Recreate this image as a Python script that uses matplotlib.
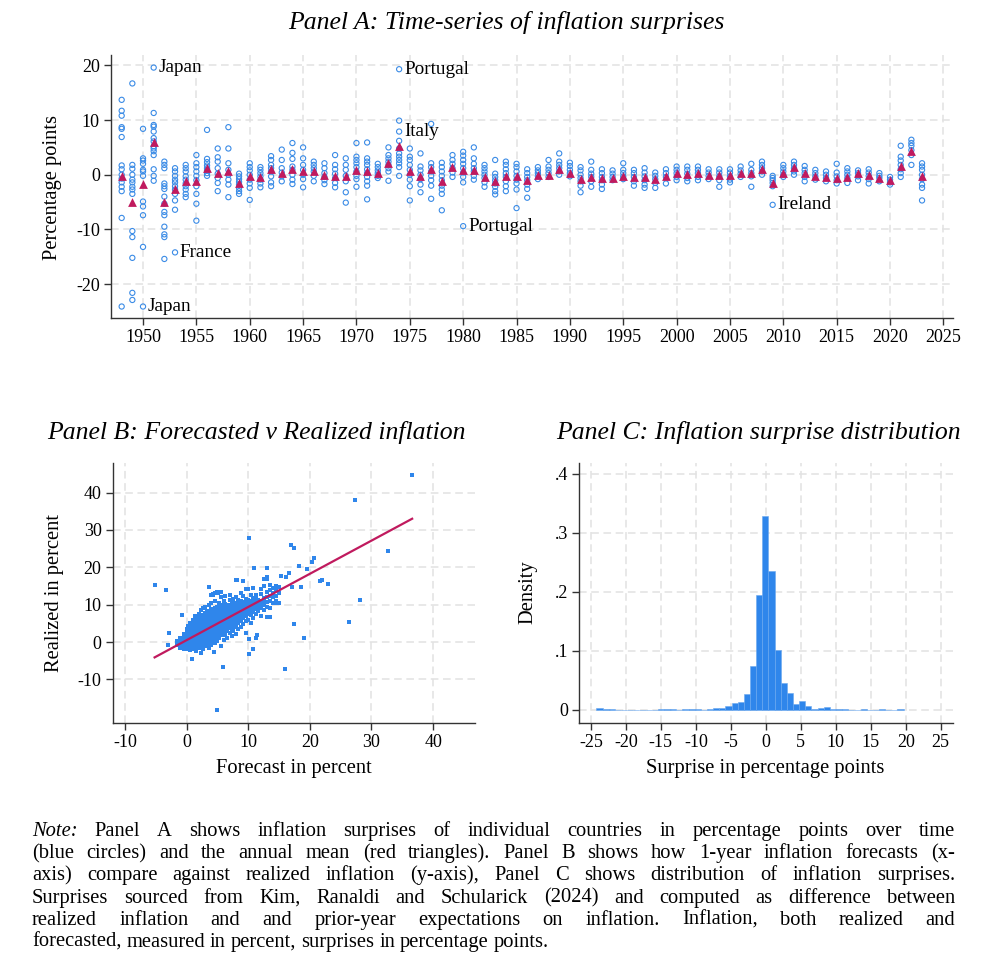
import numpy as np
import matplotlib.pyplot as plt

plt.rcParams['font.family'] = ['Liberation Serif', 'DejaVu Serif']
plt.rcParams['axes.unicode_minus'] = False

# ===============================
# Datos
# ===============================

# Panel A: sorpresas por país y año (puntos porcentuales)
years = list(range(1948, 2024))
surprises = [
    [13.7, 11.7, 10.8, 8.7, 8.4, 6.9, 1.7, 1.0, 0.0, -0.7, -1.4, -2.2, -3.0, -7.9, -24.1],   # 1948
    [16.7, 1.8, 1.1, 0.0, -0.9, -1.4, -2.2, -2.7, -3.5, -10.3, -11.4, -15.2, -21.6, -22.9],  # 1949
    [8.4, 3.0, 2.6, 2.0, 0.9, 0.6, -0.2, -4.9, -5.8, -7.4, -13.2, -24.1],                    # 1950
    [19.6, 11.3, 9.1, 8.8, 7.9, 6.7, 6.1, 5.2, 4.8, 4.3, 3.6, 1.0, -0.2, -1.1],              # 1951
    [2.4, 1.8, 1.2, -1.6, -2.1, -2.6, -4.0, -5.3, -6.8, -7.4, -9.5, -10.9, -11.4, -15.4],    # 1952
    [1.2, 0.6, -0.2, -0.9, -1.4, -2.1, -2.7, -3.5, -4.7, -6.4, -14.2],                       # 1953
    [1.8, 1.2, 0.6, -0.3, -0.9, -1.6, -2.1, -2.7, -3.5, -4.1],                               # 1954
    [3.6, 2.1, 1.4, 0.6, -0.2, -1.0, -2.1, -3.5, -5.3, -8.4],                                # 1955
    [8.2, 2.9, 2.3, 1.7, 1.2, 0.8, 0.3, -0.2],                                               # 1956
    [4.8, 3.2, 2.4, 1.2, 0.2, -0.6, -1.5, -3.0],                                             # 1957
    [8.7, 4.8, 2.1, 0.9, 0.0, -0.9, -1.8, -4.1],                                             # 1958
    [0.2, -0.3, -0.8, -1.3, -1.8, -2.4, -3.0, -3.5],                                         # 1959
    [2.1, 1.4, 0.8, 0.0, -0.9, -1.6, -2.4, -4.6],                                            # 1960
    [1.4, 0.9, 0.3, -0.3, -0.9, -1.6, -2.3],                                                 # 1961
    [3.4, 2.7, 1.8, 1.2, 0.6, -0.3, -1.4, -2.1],                                             # 1962
    [4.6, 2.7, 1.2, 0.4, -0.3, -1.2],                                                        # 1963
    [5.8, 4.0, 2.9, 1.5, 0.9, 0.0, -0.9, -1.7],                                              # 1964
    [5.0, 3.0, 1.8, 0.9, 0.0, -0.8, -2.3],                                                   # 1965
    [2.4, 1.8, 1.2, 0.6, -0.2, -1.2],                                                        # 1966
    [2.1, 1.2, 0.3, -0.4, -1.0, -1.7],                                                       # 1967
    [3.6, 1.8, 1.0, 0.2, -0.6, -1.5, -2.3],                                                  # 1968
    [3.0, 1.8, 0.9, -0.2, -1.2, -3.2, -5.1],                                                 # 1969
    [5.8, 3.3, 2.7, 2.1, 1.4, 0.6, -0.2, -0.8, -2.2],                                        # 1970
    [5.9, 3.0, 2.4, 1.8, 1.0, 0.3, -0.4, -1.2, -2.0, -4.5],                                  # 1971
    [2.0, 1.4, 0.8, 0.3, -0.2, -0.6],                                                        # 1972
    [5.0, 3.6, 3.0, 2.4, 1.8, 1.2, 0.6, -1.1],                                               # 1973
    [19.3, 9.9, 7.9, 6.2, 4.8, 3.9, 3.3, 2.7, 2.1, 1.4, -0.2],                               # 1974
    [4.8, 3.3, 2.7, 1.8, 0.9, 0.0, -0.9, -2.1, -4.7],                                        # 1975
    [3.9, 1.5, 0.8, 0.0, -0.8, -1.8, -3.2],                                                  # 1976
    [9.3, 2.1, 1.4, 0.6, -0.2, -1.0, -2.0, -4.4],                                            # 1977
    [2.2, 1.4, 0.6, -0.2, -1.0, -2.0, -2.7, -3.5, -6.5],                                     # 1978
    [3.6, 2.7, 2.0, 1.2, 0.4, -0.4],                                                         # 1979
    [4.2, 3.5, 2.7, 2.0, 1.2, 0.4, -0.4, -1.4, -9.4],                                        # 1980
    [5.0, 3.0, 2.0, 1.2, 0.6, -0.2, -0.9],                                                   # 1981
    [1.8, 1.2, 0.6, 0.0, -0.6, -1.4, -2.2],                                                  # 1982
    [2.7, 0.2, -0.4, -1.0, -1.6, -2.2, -3.0, -3.6],                                          # 1983
    [2.4, 1.8, 1.0, 0.3, -0.4, -1.2, -2.1, -3.0],                                            # 1984
    [2.0, 1.4, 0.6, -0.2, -0.9, -1.6, -2.7, -6.1],                                           # 1985
    [1.0, 0.3, -0.4, -1.0, -1.8, -2.6, -4.2],                                                # 1986
    [1.4, 0.8, 0.3, -0.2, -0.8],                                                             # 1987
    [2.7, 1.5, 0.9, 0.3, -0.4],                                                              # 1988
    [3.9, 2.4, 1.8, 1.2, 0.6, 0.0],                                                          # 1989
    [2.2, 1.6, 0.9, 0.3, -0.3],                                                              # 1990
    [1.4, 0.8, 0.0, -0.6, -1.2, -2.0, -3.2],                                                 # 1991
    [2.4, 0.9, 0.2, -0.4, -1.2, -2.2],                                                       # 1992
    [1.0, 0.3, -0.4, -1.0, -1.8, -2.6],                                                      # 1993
    [0.8, 0.2, -0.4, -1.0],                                                                  # 1994
    [2.1, 0.9, 0.3, -0.3, -0.8],                                                             # 1995
    [0.9, 0.3, -0.4, -1.2, -2.0],                                                            # 1996
    [1.2, 0.4, -0.3, -1.0, -1.8, -2.4],                                                      # 1997
    [0.4, -0.2, -0.8, -1.5, -2.4],                                                           # 1998
    [1.0, 0.3, -0.4, -1.6],                                                                  # 1999
    [1.5, 0.9, 0.3, -0.4, -1.0],                                                             # 2000
    [1.5, 0.9, 0.2, -0.6, -1.2],                                                             # 2001
    [1.5, 0.9, 0.3, -0.4, -1.0],                                                             # 2002
    [1.0, 0.4, -0.2, -0.8],                                                                  # 2003
    [1.0, 0.4, -0.3, -1.0, -2.2],                                                            # 2004
    [1.0, 0.4, -0.3, -0.9, -1.4],                                                            # 2005
    [1.5, 0.8, 0.2, -0.4],                                                                   # 2006
    [2.0, 0.9, 0.3, -0.3, -2.2],                                                             # 2007
    [2.4, 1.8, 1.2, 0.6, 0.0],                                                               # 2008
    [-0.2, -0.6, -1.0, -1.5, -2.1, -5.5],                                                    # 2009
    [1.8, 1.2, 0.6, 0.0, -0.4],                                                              # 2010
    [2.4, 1.8, 1.2, 0.6, 0.0],                                                               # 2011
    [1.6, 0.9, 0.3, -0.4, -1.2],                                                             # 2012
    [0.9, 0.3, -0.3, -0.9],                                                                  # 2013
    [0.6, 0.0, -0.6, -1.2],                                                                  # 2014
    [2.0, 0.4, -0.3, -1.0, -1.6],                                                            # 2015
    [1.2, 0.6, 0.0, -0.6, -1.5],                                                             # 2016
    [0.8, 0.3, -0.3, -1.0],                                                                  # 2017
    [1.0, 0.4, -0.2, -0.8, -1.6],                                                            # 2018
    [0.3, -0.2, -0.6, -1.2],                                                                 # 2019
    [-0.4, -0.9, -1.4, -1.8],                                                                # 2020
    [5.3, 3.3, 2.6, 1.8, 1.0, 0.3, -0.4],                                                    # 2021
    [6.4, 5.8, 5.3, 4.5, 3.6, 1.8],                                                          # 2022
    [2.1, 1.5, 0.9, 0.0, -0.8, -1.8, -2.4, -4.7],                                            # 2023
]
annual_mean = [
    -0.2, -5.0, -1.7, 5.9, -4.9, -2.6, -1.2, -1.1, 1.2, 0.4,      # 1948-1957
    0.6, -1.5, -0.2, -0.4, 1.0, 0.4, 1.0, 0.6, 0.6, -0.1,         # 1958-1967
    -0.2, -0.3, 0.9, 0.7, 0.4, 2.1, 5.2, 0.6, -0.2, 1.0,          # 1968-1977
    -1.2, 1.5, 0.8, 0.9, -0.4, -1.2, -0.3, -0.2, -0.9, 0.0,       # 1978-1987
    0.0, 1.1, 0.3, -0.8, -0.4, -0.6, -0.6, -0.2, -0.4, -0.4,      # 1988-1997
    -0.8, -0.3, 0.4, 0.2, 0.3, 0.0, 0.0, 0.0, 0.3, 0.3,           # 1998-2007
    1.0, -1.6, 0.4, 1.4, 0.3, -0.3, -0.4, -0.6, -0.4, 0.3,        # 2008-2017
    0.0, -0.6, -1.0, 1.6, 4.4, -0.3,                              # 2018-2023
]
label_years = [1951, 1950, 1953, 1974, 1974, 1980, 2009]
label_values = [19.6, -24.1, -14.2, 19.3, 7.9, -9.4, -5.5]
label_names = ["Japan", "Japan", "France", "Portugal", "Italy", "Portugal", "Ireland"]

# Panel B: núcleo de la nube (pronóstico -> lista de realizados)
cluster_f = [-1.5, -1.0, -0.5, 0.0, 0.3, 0.6, 1.0, 1.3, 1.6, 2.0, 2.3, 2.6, 3.0, 3.3,
             3.6, 4.0, 4.3, 4.6, 5.0, 5.3, 5.6, 6.0, 6.3, 6.6, 7.0, 7.3, 7.6, 8.0,
             8.4, 8.8, 9.2, 9.6, 10.0, 10.4, 10.8, 11.2, 11.6, 12.0, 12.5, 13.0,
             13.5, 14.0, 14.5, 15.0]
cluster_r = [
    [-0.8, 0.2],
    [-1.5, -0.6, 0.0, 0.6, 1.2],
    [-1.8, -1.0, -0.3, 0.3, 0.9, 1.5, 2.2],
    [-2.0, -1.3, -0.7, -0.1, 0.5, 1.0, 1.6, 2.2, 2.9, 3.6],
    [-1.6, -0.9, -0.2, 0.4, 1.1, 1.8, 2.5, 3.2, 4.3],
    [-2.2, -1.2, -0.5, 0.2, 0.8, 1.4, 2.0, 2.7, 3.4, 4.0, 5.1],
    [-1.8, -1.0, -0.3, 0.3, 0.9, 1.5, 2.1, 2.7, 3.3, 4.0, 4.8, 6.0],
    [-1.5, -0.6, 0.1, 0.7, 1.3, 1.9, 2.5, 3.1, 3.8, 4.6, 5.5, 7.0],
    [-2.3, -1.1, -0.2, 0.5, 1.1, 1.7, 2.3, 2.9, 3.5, 4.2, 5.0, 6.2],
    [-1.6, -0.7, 0.1, 0.8, 1.5, 2.1, 2.7, 3.3, 4.0, 4.7, 5.5, 6.5, 7.6],
    [-1.2, -0.3, 0.5, 1.2, 1.9, 2.5, 3.1, 3.8, 4.5, 5.3, 6.1, 7.2, 8.5],
    [-2.0, -0.8, 0.2, 1.0, 1.7, 2.3, 2.9, 3.5, 4.2, 4.9, 5.7, 6.6, 9.0],
    [-1.0, 0.0, 0.8, 1.6, 2.3, 3.0, 3.6, 4.3, 5.0, 5.8, 6.7, 7.8, 9.5],
    [-0.5, 0.5, 1.3, 2.0, 2.7, 3.4, 4.1, 4.8, 5.6, 6.4, 7.4, 8.4],
    [-1.5, 0.2, 1.0, 1.8, 2.6, 3.3, 4.0, 4.7, 5.4, 6.2, 7.0, 8.0, 9.8, 14.6],
    [-0.8, 0.6, 1.5, 2.3, 3.1, 3.9, 4.6, 5.3, 6.1, 6.9, 7.8, 8.8, 10.5, 12.6],
    [0.0, 1.2, 2.0, 2.8, 3.6, 4.4, 5.1, 5.9, 6.7, 7.6, 8.6, 12.8],
    [-0.3, 0.9, 1.8, 2.7, 3.5, 4.3, 5.0, 5.8, 6.6, 7.5, 9.2, 11.0, 13.0],
    [0.3, 1.5, 2.5, 3.4, 4.2, 5.0, 5.8, 6.6, 7.4, 8.3, 9.5, 13.4],
    [1.0, 2.2, 3.2, 4.1, 4.9, 5.7, 6.5, 7.3, 8.2, 9.0, 10.5],
    [-1.2, 2.0, 3.0, 3.9, 4.8, 5.6, 6.4, 7.2, 8.0, 8.8, 10.0, 12.0],
    [0.6, 2.6, 3.6, 4.5, 5.4, 6.2, 7.0, 7.8, 8.6, 9.5, 11.0],
    [2.0, 3.3, 4.3, 5.2, 6.0, 6.8, 7.6, 8.4, 9.3, 10.2, 12.4],
    [1.2, 3.0, 4.0, 4.9, 5.8, 6.7, 7.5, 8.3, 9.1, 10.0],
    [2.5, 3.8, 4.8, 5.7, 6.5, 7.4, 8.2, 9.0, 9.8, 11.2, 12.5],
    [1.5, 3.3, 4.6, 5.6, 6.5, 7.3, 8.1, 8.9, 9.7, 10.6],
    [3.0, 4.3, 5.3, 6.3, 7.2, 8.0, 8.8, 9.6, 10.5, 11.5],
    [2.2, 4.0, 5.2, 6.2, 7.1, 8.0, 8.8, 9.6, 10.4, 12.0, 16.5],
    [3.5, 5.0, 6.0, 7.0, 7.9, 8.7, 9.5, 10.3, 11.3],
    [4.0, 5.6, 6.7, 7.7, 8.6, 9.4, 10.2, 11.0, 13.0],
    [4.8, 6.3, 7.4, 8.4, 9.2, 10.0, 10.8, 12.2],
    [2.5, 5.5, 7.0, 8.1, 9.0, 9.8, 10.6, 11.6, 14.2],
    [6.0, 7.5, 8.6, 9.5, 10.3, 11.2, 14.3],
    [5.2, 7.2, 8.4, 9.4, 10.2, 11.0, 12.5],
    [6.5, 8.0, 9.1, 10.0, 10.8, 11.8, 14.5],
    [7.5, 8.8, 9.8, 10.6, 11.6, 12.6],
    [8.2, 9.5, 10.4, 11.3],
    [7.0, 9.0, 10.2, 11.0, 12.8, 14.3],
    [8.5, 9.8, 10.8, 11.8, 15.0],
    [9.5, 10.8, 12.0, 13.5, 16.8],
    [9.2, 10.9, 12.3, 14.0, 15.3],
    [10.5, 12.0, 13.2, 14.5],
    [11.0, 12.4, 14.0, 15.0],
    [10.5, 13.0, 14.8],
]
# Panel B: puntos sueltos
outlier_f = [36.6, 27.4, 32.6, 28.1, 26.4, 10.2, 16.9, 17.4, 20.7, 20.4, 19.6, 18.2,
             10.9, 13.1, 21.7, 22.0, 23.0, 18.5, 17.1, 16.6, 16.1, 15.3, -5.2, -3.4,
             -2.9, -3.1, -0.7, 17.5, 19.0, 15.9, 5.9, 4.9, 0.9, 2.4, 4.5, 10.2, 10.7,
             10.1, 11.2, 11.4, 13.1, 13.5, 14.4, 14.9, 3.6, 8.2, 9.1, 12.5, 13.0, 4.3,
             5.1, 5.5]
outlier_r = [44.7, 37.9, 24.4, 11.2, 5.4, 27.8, 26.0, 25.1, 22.6, 21.3, 19.6, 20.4,
             19.9, 19.9, 16.3, 16.6, 15.5, 14.8, 14.8, 18.6, 17.3, 17.7, 15.3, 13.8,
             2.5, -0.8, 7.1, 4.8, 1.2, -7.3, -6.7, -18.2, -4.6, -3.0, -2.7, -3.3, -2.0,
             0.7, 1.0, 1.9, 6.8, 6.8, 10.5, 10.5, 14.6, 16.6, 16.4, 17.0, 17.5, 12.6,
             13.2, 13.5]
fit_intercept = 0.5
fit_slope = 0.888

# Panel C: histograma (50 intervalos, densidad)
hist_lo, hist_hi, n_bins = -24.2, 19.7, 50
hist_density = [
    0.0022, 0.001, 0.001, 0, 0, 0, 0, 0, 0, 0,
    0.001, 0.001, 0.001, 0, 0.001, 0.001, 0.001, 0, 0.002, 0.003,
    0.0035, 0.006, 0.012, 0.013, 0.027, 0.074, 0.195, 0.328, 0.235, 0.102,
    0.046, 0.028, 0.0095, 0.015, 0.0068, 0.001, 0.0035, 0.0045, 0.002, 0.001,
    0.001, 0, 0, 0.001, 0, 0, 0.001, 0, 0, 0.001,
]

# ===============================
# Estilo
# ===============================
W, H = 1000, 980
blue = '#3a8be6'
red = '#c01a5e'
grid_kw = dict(color='#e2e2e2', ls=(0, (5, 3)), lw=1.1)
tick_fs = 13
label_fs = 14.8
title_fs = 18.5


def px_axes(left, top, right, bottom):
    return fig.add_axes([left / W, 1 - bottom / H, (right - left) / W, (bottom - top) / H])


def stata_style(ax):
    for s in ['top', 'right']:
        ax.spines[s].set_visible(False)
    for s in ['left', 'bottom']:
        ax.spines[s].set_color('#333333')
        ax.spines[s].set_linewidth(1.0)
    ax.tick_params(direction='out', length=5, width=1, color='#333333',
                   labelsize=tick_fs, pad=3)
    ax.grid(True, **grid_kw)
    ax.set_axisbelow(True)


fig = plt.figure(figsize=(W / 100, H / 100), dpi=100)

# ===============================
# Panel A
# ===============================
axA = px_axes(111, 55, 953, 318)
stata_style(axA)
for yr, vals in zip(years, surprises):
    axA.scatter([yr] * len(vals), vals, s=14, facecolors='none',
                edgecolors=blue, linewidths=0.8, zorder=3)
axA.scatter(years, annual_mean, marker='^', s=40, color=red, zorder=4, linewidths=0)
for yr, v, name in zip(label_years, label_values, label_names):
    axA.annotate(name, (yr, v), xytext=(3.5, 0), textcoords='offset points',
                 va='center', ha='left', fontsize=13.8)
axA.set_xlim(1947.0, 2025.9)
axA.set_ylim(-26.2, 21.9)
axA.set_xticks(range(1950, 2026, 5))
axA.set_yticks([-20, -10, 0, 10, 20])
fig.text(506 / W, 1 - 22 / H, "Panel A: Time-series of inflation surprises",
         ha='center', va='center', fontsize=title_fs, style='italic')
fig.text(52 / W, 1 - 187 / H, "Percentage points", rotation=90,
         ha='center', va='center', fontsize=label_fs)

# ===============================
# Panel B
# ===============================
axB = px_axes(112.7, 462.7, 475, 722.7)
stata_style(axB)
bf, br = [], []
for f, rs in zip(cluster_f, cluster_r):
    bf += [f] * len(rs)
    br += rs
bf += outlier_f
br += outlier_r
axB.scatter(bf, br, marker='s', s=7, color='#2f86eb', linewidths=0, zorder=3)
xf = np.array([min(bf), max(bf)])
axB.plot(xf, fit_intercept + fit_slope * xf, color=red, lw=1.6, zorder=4)
axB.set_xlim(-12.0, 46.8)
axB.set_ylim(-21.6, 48.0)
axB.set_xticks(range(-10, 41, 10))
axB.set_yticks(range(-10, 41, 10))
fig.text(256 / W, 1 - 432 / H, "Panel B: Forecasted v Realized inflation",
         ha='center', va='center', fontsize=title_fs, style='italic')
fig.text(55 / W, 1 - 593 / H, "Realized in percent", rotation=90,
         ha='center', va='center', fontsize=label_fs)
fig.text(294 / W, 1 - 768 / H, "Forecast in percent",
         ha='center', va='center', fontsize=label_fs)

# ===============================
# Panel C
# ===============================
axC = px_axes(579, 462.7, 953.3, 722.7)
stata_style(axC)
edges = np.linspace(hist_lo, hist_hi, n_bins + 1)
axC.bar(edges[:-1], hist_density, width=np.diff(edges), align='edge',
        color='#2f86eb', edgecolor='#6aa8f0', linewidth=0.4, zorder=3)
axC.set_xlim(-26.7, 26.8)
axC.set_ylim(-0.022, 0.419)
axC.set_xticks(range(-25, 26, 5))
axC.set_yticks([0, 0.1, 0.2, 0.3, 0.4])
axC.set_yticklabels(["0", ".1", ".2", ".3", ".4"])
fig.text(758 / W, 1 - 432 / H, "Panel C: Inflation surprise distribution",
         ha='center', va='center', fontsize=title_fs, style='italic')
fig.text(528 / W, 1 - 592 / H, "Density", rotation=90,
         ha='center', va='center', fontsize=label_fs)
fig.text(765 / W, 1 - 768 / H, "Surprise in percentage points",
         ha='center', va='center', fontsize=label_fs)

# ===============================
# Nota (texto justificado)
# ===============================
note_lines = [
    "Note: Panel A shows inflation surprises of individual countries in percentage points over time",
    "(blue circles) and the annual mean (red triangles). Panel B shows how 1-year inflation forecasts (x-",
    "axis) compare against realized inflation (y-axis), Panel C shows distribution of inflation surprises.",
    "Surprises sourced from Kim, Ranaldi and Schularick (2024) and computed as difference between",
    "realized inflation and and prior-year expectations on inflation.  Inflation, both realized and",
    "forecasted, measured in percent, surprises in percentage points.",
]
note_fs = 14.8
note_x0, note_x1 = 32, 955
renderer = fig.canvas.get_renderer()
for i, line in enumerate(note_lines):
    y_base = 836 + i * 22.2
    words = line.split()
    texts = []
    for j, w in enumerate(words):
        style = 'italic' if (i == 0 and j == 0) else 'normal'
        texts.append(fig.text(0, 1 - y_base / H, w, fontsize=note_fs, style=style,
                              ha='left', va='baseline'))
    widths = [t.get_window_extent(renderer).width for t in texts]
    if i < len(note_lines) - 1:
        gap = (note_x1 - note_x0 - sum(widths)) / (len(words) - 1)
    else:
        gap = 5.0
    x = note_x0
    for t, w in zip(texts, widths):
        t.set_x(x / W)
        x += w + gap

plt.savefig("out.png", dpi=100)
